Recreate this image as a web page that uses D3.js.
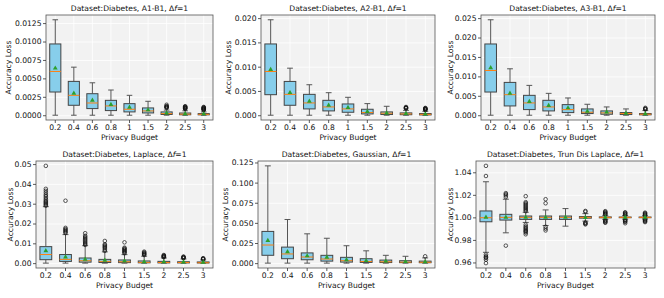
<!DOCTYPE html>
<html>
<head>
<meta charset="utf-8">
<script src="https://cdn.jsdelivr.net/npm/d3@7"></script>
<style>
    body { margin: 0; background: #fff; }
    text { font-family: "DejaVu Sans", sans-serif; }
</style>
</head>
<body>
<div class="chart"></div>
<script>
// privacy budgets on the x axis
var budgets = ["0.2", "0.4", "0.6", "0.8", "1", "1.5", "2", "2.5", "3"];

// each row: [low whisker, q1, median, q3, high whisker]
var a1Box = [
    [0, 0.00315, 0.00594, 0.00967, 0.01295],
    [0, 0.00135, 0.0027, 0.00459, 0.00652],
    [0, 0.0009, 0.00166, 0.00292, 0.0044],
    [0, 0.00063, 0.00126, 0.00202, 0.00342],
    [0, 0.00045, 0.00081, 0.00157, 0.0027],
    [0, 0.00031, 0.00058, 0.00099, 0.00189],
    [0, 0.0001, 0.00022, 0.00045, 0.0007],
    [0, 0.00006, 0.00015, 0.0003, 0.0006],
    [0, 0.00005, 0.00012, 0.00022, 0.00045]
];
var a1Mean = [0.00638, 0.00297, 0.00202, 0.00144, 0.00108, 0.00072, 0.0003, 0.0002, 0.00017];
var a1Out = [[], [], [], [], [], [],
    [0.00142, 0.00125, 0.00118, 0.00112, 0.00105, 0.001],
    [0.00122, 0.00116, 0.0011, 0.00105, 0.001, 0.00095, 0.0009, 0.00085],
    [0.00112, 0.00106, 0.001, 0.00095, 0.0009, 0.00085, 0.0008, 0.00075, 0.0007]];

var a2Box = [
    [0, 0.00423, 0.00901, 0.01468, 0.01966],
    [0, 0.00205, 0.0043, 0.00696, 0.00969],
    [0, 0.0013, 0.00253, 0.0043, 0.00628],
    [0, 0.00089, 0.00171, 0.00307, 0.00464],
    [0, 0.00061, 0.0013, 0.00232, 0.00369],
    [0, 0.00027, 0.00055, 0.00123, 0.00239],
    [0, 0.00014, 0.00041, 0.00068, 0.00184],
    [0, 0.0001, 0.00027, 0.00048, 0.001],
    [0, 0.00006, 0.00018, 0.00034, 0.0008]
];
var a2Mean = [0.00942, 0.00464, 0.00287, 0.00205, 0.00157, 0.00075, 0.00045, 0.00035, 0.00025];
var a2Out = [[], [], [], [], [], [], [],
    [0.0017, 0.0016, 0.00152, 0.00145, 0.0014],
    [0.0015, 0.00142, 0.00135, 0.00128, 0.0012, 0.00115, 0.0011]];

var a3Box = [
    [0, 0.00597, 0.01152, 0.01834, 0.02457],
    [0, 0.00239, 0.00529, 0.00845, 0.01195],
    [0, 0.00145, 0.00316, 0.00512, 0.00768],
    [0, 0.00111, 0.00213, 0.00384, 0.00563],
    [0, 0.00068, 0.00145, 0.00273, 0.00444],
    [0, 0.00043, 0.00077, 0.00162, 0.00282],
    [0, 0.00026, 0.0006, 0.00111, 0.00213],
    [0, 0.00017, 0.00043, 0.00068, 0.00162],
    [0, 0.0001, 0.00026, 0.00043, 0.0012]
];
var a3Mean = [0.0122, 0.00563, 0.0035, 0.00247, 0.00188, 0.001, 0.0008, 0.0005, 0.00035];
var a3Out = [[], [], [], [], [], [], [], [],
    [0.0019, 0.0017, 0.0016, 0.0015]];

var lapBox = [
    [0, 0.00174, 0.00434, 0.00833, 0.0285],
    [0, 0.00087, 0.0019, 0.00434, 0.0144],
    [0, 0.0005, 0.0012, 0.0026, 0.0088],
    [0, 0.0003, 0.0009, 0.0019, 0.0057],
    [0, 0.00025, 0.0007, 0.0016, 0.0043],
    [0, 0.00015, 0.0004, 0.0011, 0.0035],
    [0, 0.0001, 0.0003, 0.0009, 0.0026],
    [0, 0.0001, 0.0003, 0.0007, 0.0021],
    [0, 0.00008, 0.0002, 0.0006, 0.0016]
];
var lapMean = [0.00625, 0.0031, 0.0019, 0.0014, 0.0011, 0.0007, 0.0006, 0.0005, 0.0004];
var lapOut = [
    [0.0491, 0.0375, 0.0365, 0.0355, 0.0345, 0.0338, 0.033, 0.0322, 0.0315, 0.031, 0.0305, 0.03, 0.0295, 0.029],
    [0.0315, 0.0178, 0.0172, 0.0167, 0.0162, 0.0157, 0.0152],
    [0.0151, 0.0138, 0.0132, 0.0126, 0.012, 0.0114, 0.0108, 0.0102, 0.0097, 0.0092],
    [0.0112, 0.0095, 0.009, 0.0085, 0.008, 0.0075, 0.0068, 0.0062],
    [0.0105, 0.0078, 0.0074, 0.007, 0.0066, 0.0062, 0.0058, 0.0054, 0.005],
    [0.0058, 0.0054, 0.005, 0.0047, 0.0044, 0.0041],
    [0.0041, 0.0038, 0.0036, 0.0034, 0.0032, 0.003],
    [0.0033, 0.0031, 0.0029, 0.0027, 0.0025],
    [0.0025, 0.0023, 0.0021, 0.0019]];

var gauBox = [
    [0, 0.00975, 0.0225, 0.0394, 0.1208],
    [0, 0.0055, 0.0114, 0.0199, 0.0542],
    [0, 0.0042, 0.0076, 0.0127, 0.0364],
    [0, 0.0025, 0.0051, 0.0097, 0.0309],
    [0, 0.0013, 0.003, 0.0072, 0.0216],
    [0, 0.0009, 0.0021, 0.0055, 0.0153],
    [0, 0.0007, 0.0017, 0.0038, 0.0097],
    [0, 0.0006, 0.0013, 0.003, 0.0085],
    [0, 0.0005, 0.0011, 0.0025, 0.0065]
];
var gauMean = [0.028, 0.014, 0.0089, 0.0072, 0.0042, 0.003, 0.0024, 0.0019, 0.0016];
var gauOut = [[], [], [], [], [], [], [], [], [0.0085]];

var tdlBox = [
    [0.969, 0.9961, 0.9997, 1.0057, 1.0316],
    [0.9863, 0.9976, 1.0, 1.0027, 1.0161],
    [0.9955, 0.9982, 1.0, 1.0012, 1.0045],
    [0.9928, 0.9982, 1.0, 1.0012, 1.0066],
    [0.9922, 0.9982, 1.0, 1.0012, 1.0078],
    [0.9967, 0.9993, 1.0, 1.0007, 1.0033],
    [0.9982, 0.9996, 1.0, 1.0004, 1.0018],
    [0.9984, 0.9997, 1.0, 1.0003, 1.0016],
    [0.9986, 0.9997, 1.0, 1.0003, 1.0014]
];
var tdlMean = [1.0, 1.0, 1.0, 1.0, 1.0, 0.9998, 1.0, 1.0, 1.0];
var tdlOut = [
    [1.0457, 1.0367, 0.9669, 0.9655, 0.9645, 0.964, 0.9625, 0.9594],
    [1.0215, 1.0205, 1.0195, 1.018, 0.9749],
    [1.0188, 1.0135, 1.0125, 1.0115, 1.0105, 1.0095, 1.0085, 1.0075, 1.0065, 1.0055,
     0.9935, 0.992, 0.991, 0.99, 0.989, 0.988, 0.9875, 0.9865, 0.985],
    [1.0161, 1.0125, 0.9916, 0.99, 0.9884],
    [],
    [1.0057, 1.005, 0.9955, 0.995, 0.9943, 0.9938],
    [1.0055, 1.0048, 1.0042, 1.0036, 1.003, 1.0025, 0.9975, 0.997, 0.9964, 0.9958, 0.9952],
    [1.0045, 1.004, 1.0034, 1.0028, 1.0022, 0.9978, 0.9972, 0.9966, 0.996, 0.9948],
    [1.0042, 1.0036, 1.003, 1.0024, 1.0018, 0.9982, 0.9976, 0.997, 0.9964, 0.9958]];

var svg = d3.select(".chart").append("svg")
    .attr("width", 664)
    .attr("height", 298);

function drawPanel(p) {
    var width = p.right - p.left;
    var height = p.bottom - p.top;
    var g = svg.append("g")
        .attr("transform", "translate(" + p.left + "," + p.top + ")");

    var x = d3.scaleBand()
        .domain(budgets)
        .range([0, width])
        .padding(0);

    // y extent from whiskers and outliers, with 5% margins like matplotlib
    var all = [];
    p.box.forEach(function (b, i) {
        all.push(b[0], b[4]);
        all = all.concat(p.out[i]);
    });
    var lo = d3.min(all), hi = d3.max(all);
    var pad = (hi - lo) * 0.05;
    var y = d3.scaleLinear()
        .domain([lo - pad, hi + pad])
        .range([height, 0]);

    g.append("rect")
        .attr("width", width)
        .attr("height", height)
        .attr("fill", "#f2f2f2");

    // gridlines
    g.append("g")
        .attr("class", "grid")
        .call(d3.axisLeft(y).tickValues(p.ticks).tickSize(-width).tickFormat(""))
        .call(function (s) { s.select(".domain").remove(); })
        .selectAll("line").attr("stroke", "#fff").attr("stroke-width", 0.8);
    g.append("g")
        .attr("class", "grid")
        .attr("transform", "translate(0," + height + ")")
        .call(d3.axisBottom(x).tickSize(-height).tickFormat(""))
        .call(function (s) { s.select(".domain").remove(); })
        .selectAll("line").attr("stroke", "#fff").attr("stroke-width", 0.8);

    var bw = x.bandwidth() * 0.6;
    var boxes = g.selectAll(".box")
        .data(p.box)
        .enter().append("g")
        .attr("class", "box")
        .attr("transform", function (d, i) {
            return "translate(" + (x(budgets[i]) + x.bandwidth() / 2) + ",0)";
        });

    // whiskers
    boxes.append("line")
        .attr("y1", function (d) { return y(d[0]); })
        .attr("y2", function (d) { return y(d[1]); })
        .attr("stroke", "#555").attr("stroke-width", 1);
    boxes.append("line")
        .attr("y1", function (d) { return y(d[3]); })
        .attr("y2", function (d) { return y(d[4]); })
        .attr("stroke", "#555").attr("stroke-width", 1);
    // caps
    [0, 4].forEach(function (k) {
        boxes.append("line")
            .attr("x1", -bw / 4).attr("x2", bw / 4)
            .attr("y1", function (d) { return y(d[k]); })
            .attr("y2", function (d) { return y(d[k]); })
            .attr("stroke", "#555").attr("stroke-width", 1);
    });

    boxes.append("rect")
        .attr("x", -bw / 2)
        .attr("width", bw)
        .attr("y", function (d) { return y(d[3]); })
        .attr("height", function (d) { return Math.max(0.5, y(d[1]) - y(d[3])); })
        .attr("fill", "#87ceeb")
        .attr("stroke", "#444")
        .attr("stroke-width", 1);

    boxes.append("line")
        .attr("x1", -bw / 2).attr("x2", bw / 2)
        .attr("y1", function (d) { return y(d[2]); })
        .attr("y2", function (d) { return y(d[2]); })
        .attr("stroke", "#ff7f0e")
        .attr("stroke-width", 1);

    // outliers
    boxes.each(function (d, i) {
        d3.select(this).selectAll("circle")
            .data(p.out[i])
            .enter().append("circle")
            .attr("cy", function (v) { return y(v); })
            .attr("r", 1.8)
            .attr("fill", "none")
            .attr("stroke", "#111")
            .attr("stroke-width", 0.7);
    });

    // means
    boxes.append("path")
        .attr("d", d3.symbol().type(d3.symbolTriangle).size(10))
        .attr("transform", function (d, i) { return "translate(0," + y(p.mean[i]) + ")"; })
        .attr("fill", "#2ca02c");

    g.append("rect")
        .attr("width", width)
        .attr("height", height)
        .attr("fill", "none")
        .attr("stroke", "#555")
        .attr("stroke-width", 0.8);

    var xa = g.append("g")
        .attr("transform", "translate(0," + height + ")")
        .call(d3.axisBottom(x).tickSize(3).tickPadding(2));
    var ya = g.append("g")
        .call(d3.axisLeft(y).tickValues(p.ticks).tickFormat(d3.format(p.fmt)).tickSize(3).tickPadding(1.5));
    [xa, ya].forEach(function (a) {
        a.select(".domain").remove();
        a.selectAll("line").attr("stroke", "#333").attr("stroke-width", 0.8);
        a.selectAll("text")
            .attr("fill", "#111")
            .style("font-size", "7.6px")
            .style("font-family", "DejaVu Sans");
    });

    var title = g.append("text")
        .attr("x", width / 2)
        .attr("y", -4)
        .attr("text-anchor", "middle")
        .style("font-size", "7.6px")
        .attr("fill", "#111");
    title.append("tspan").text("Dataset:Diabetes, " + p.name + ", \u0394");
    title.append("tspan").style("font-style", "italic").text("f");
    title.append("tspan").text("=1");

    g.append("text")
        .attr("x", width / 2)
        .attr("y", height + 19.5)
        .attr("text-anchor", "middle")
        .style("font-size", "7.6px")
        .attr("fill", "#111")
        .text("Privacy Budget");

    g.append("text")
        .attr("transform", "translate(" + (p.ylab + 2.7) + "," + (height / 2) + ") rotate(-90)")
        .attr("text-anchor", "middle")
        .style("font-size", "7.6px")
        .attr("fill", "#111")
        .text("Accuracy Loss");
}

drawPanel({ name: "A1-B1", left: 46, top: 15, right: 213, bottom: 120, ylab: -37.7,
    box: a1Box, mean: a1Mean, out: a1Out,
    ticks: [0, 0.0025, 0.005, 0.0075, 0.01, 0.0125], fmt: ".4f" });
drawPanel({ name: "A2-B1", left: 261, top: 15, right: 435, bottom: 120, ylab: -32.3,
    box: a2Box, mean: a2Mean, out: a2Out,
    ticks: [0, 0.005, 0.01, 0.015, 0.02], fmt: ".3f" });
drawPanel({ name: "A3-B1", left: 481, top: 15, right: 655, bottom: 120, ylab: -31,
    box: a3Box, mean: a3Mean, out: a3Out,
    ticks: [0, 0.005, 0.01, 0.015, 0.02, 0.025], fmt: ".3f" });
drawPanel({ name: "Laplace", left: 36, top: 161, right: 213, bottom: 268, ylab: -26,
    box: lapBox, mean: lapMean, out: lapOut,
    ticks: [0, 0.01, 0.02, 0.03, 0.04, 0.05], fmt: ".2f" });
drawPanel({ name: "Gaussian", left: 258, top: 161, right: 435, bottom: 268, ylab: -32.5,
    box: gauBox, mean: gauMean, out: gauOut,
    ticks: [0, 0.025, 0.05, 0.075, 0.1, 0.125], fmt: ".3f" });
drawPanel({ name: "Trun Dis Laplace", left: 476, top: 161, right: 655, bottom: 268, ylab: -26,
    box: tdlBox, mean: tdlMean, out: tdlOut,
    ticks: [0.96, 0.98, 1.0, 1.02, 1.04], fmt: ".2f" });
</script>
</body>
</html>
